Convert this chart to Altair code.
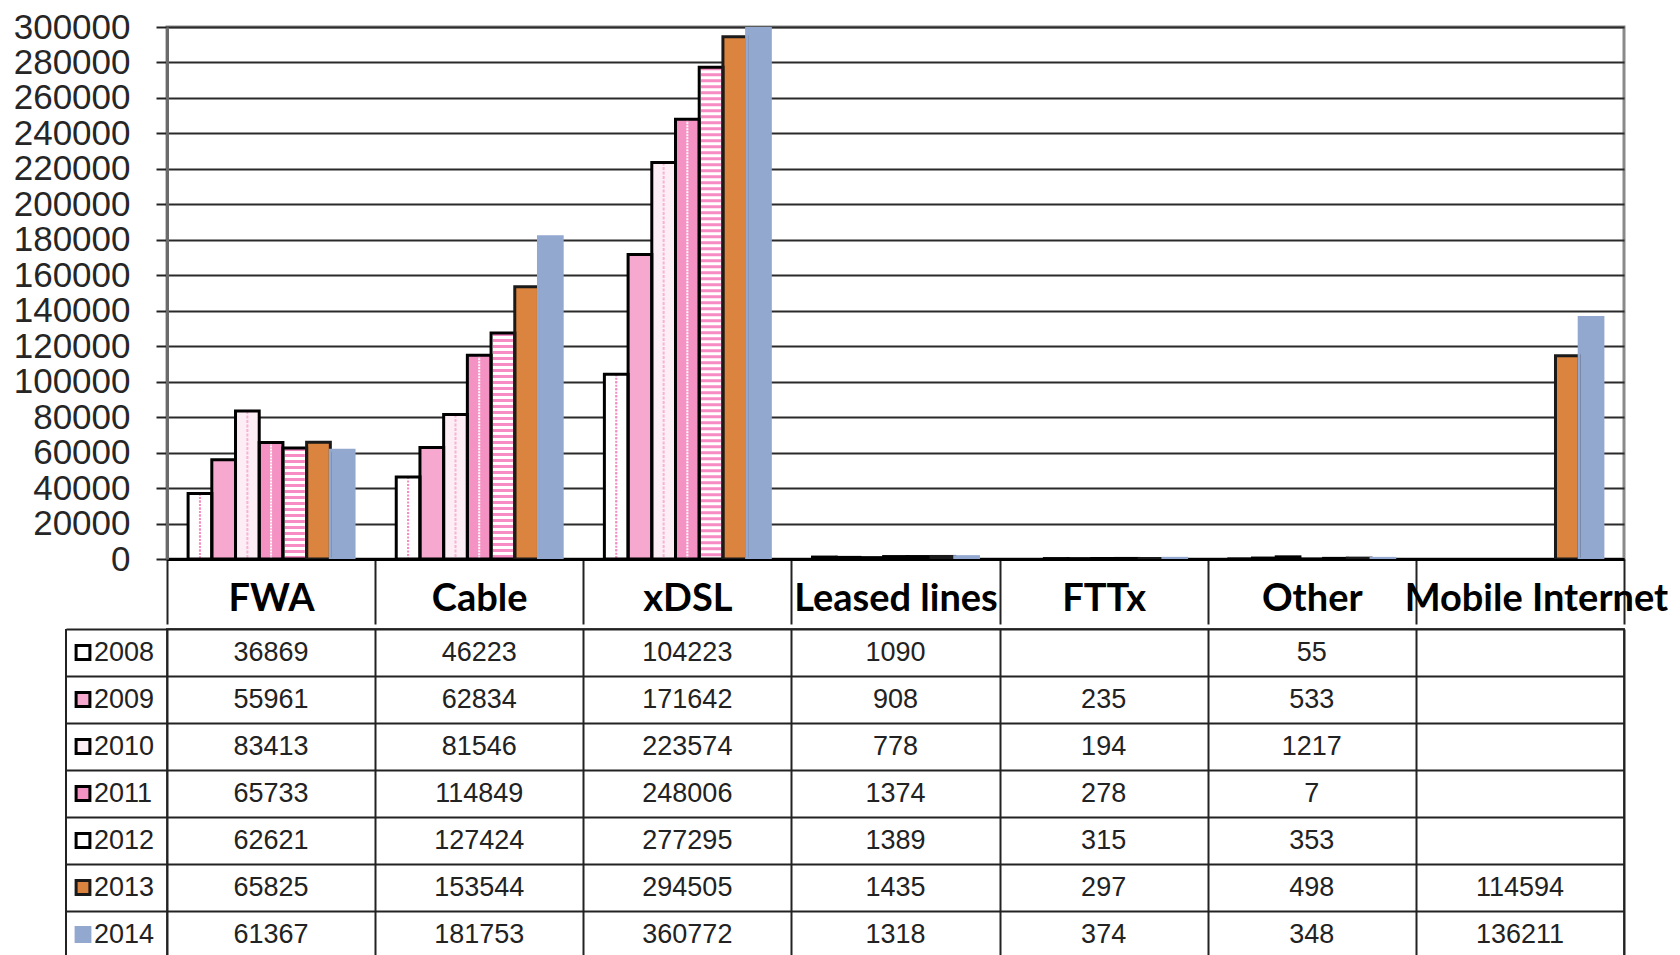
import altair as alt
import pandas as pd

categories = ["FWA", "Cable", "xDSL", "Leased lines", "FTTx", "Other", "Mobile Internet"]
years = ["2008", "2009", "2010", "2011", "2012", "2013", "2014"]
fwa = [36869, 55961, 83413, 65733, 62621, 65825, 61367]
cable = [46223, 62834, 81546, 114849, 127424, 153544, 181753]
xdsl = [104223, 171642, 223574, 248006, 277295, 294505, 360772]
leased = [1090, 908, 778, 1374, 1389, 1435, 1318]
fttx = [None, 235, 194, 278, 315, 297, 374]
other = [55, 533, 1217, 7, 353, 498, 348]
mobile = [None, None, None, None, None, 114594, 136211]
y_ticks = list(range(0, 300001, 20000))

series = [fwa, cable, xdsl, leased, fttx, other, mobile]
rows = []
for c, vals in zip(categories, series):
    for yr, v in zip(years, vals):
        rows.append({"cat": c, "year": yr, "value": v,
                     "label": "" if v is None else str(v)})
df = pd.DataFrame(rows)
df_bars = df[df["value"].notna()].copy()

PINK = "#F78BC3"
fill_colors = ["#FFFFFF", "#F6A8CF", "#FDEDF5", "#F592C4", "#FFFFFF", "#DA843F", "#93A8CF"]
stroke_colors = ["#000000"] * 5 + ["#1a1a1a", "#93A8CF"]
stroke_widths = [3, 3, 3, 3, 3, 1.2, 0]
square_fills = ["#FBE4EF", "#F6A3CC", "#FFF3F8", "#F38CC0", "#FBD3E6", "#DA843F", "#93A8CF"]
square_strokes = ["#000000"] * 5 + ["#B9692C", "#93A8CF"]
square_widths = [3, 3, 3, 3, 3, 1, 0]

W = 1457
H = 532
ROW_H = 47
HDR = 65

xscale = alt.Scale(domain=categories, paddingInner=0, paddingOuter=0)
yscale = alt.Scale(domain=[0, 300000], nice=False, zero=True)
off_scale = alt.Scale(domain=years, paddingInner=0, paddingOuter=0.89)

x_axis = alt.Axis(
    labelFont="Lato", labelFontWeight="bold", labelFontSize=38, labelColor="#000",
    labelAngle=0, labelLimit=400, labelPadding=-14, labelBaseline="alphabetic",
    labelOffset={"condition": {"test": "datum.value === 'Mobile Internet'", "value": 16}, "value": 0},
    tickBand="extent", ticks=True, tickSize=HDR, tickColor="#222", tickWidth=2,
    domain=True, domainColor="#000", domainWidth=3, grid=False,
    minExtent=HDR, maxExtent=HDR,
)
y_axis = alt.Axis(
    values=y_ticks, format="d", labelFont="Liberation Sans", labelFontSize=35,
    labelColor="#262626", labelPadding=26, labelOverlap=False,
    ticks=True, tickSize=11, tickColor="#222", tickWidth=2,
    domain=True, domainColor="#6b6b6b", domainWidth=3,
    grid=True, gridColor="#2a2a2a", gridWidth=2,
    minExtent=156, maxExtent=156,
)

X = alt.X("cat:N", scale=xscale, sort=categories, title=None, axis=x_axis)
Y = alt.Y("value:Q", scale=yscale, title=None, axis=y_axis)
XO = alt.XOffset("year:N", scale=off_scale, sort=years)

bbase = alt.Chart(df_bars)

bars = bbase.mark_bar(clip=True).encode(
    x=X, y=Y, xOffset=XO,
    fill=alt.Fill("year:N", scale=alt.Scale(domain=years, range=fill_colors), legend=None),
)


def dotted(year, color, width, dash, dash_off, x_off):
    return bbase.transform_filter(alt.datum.year == year).mark_rule(
        color=color, strokeWidth=width, strokeDash=dash, strokeDashOffset=dash_off,
        xOffset=x_off, clip=True, strokeCap="butt"
    ).encode(x=X, y=Y, y2=alt.datum(0), xOffset=XO)


# 2008 sparse pink dots
dots08a = dotted("2008", PINK, 2, [2, 5], 0, -5)
dots08b = dotted("2008", PINK, 2, [2, 5], 3.5, 1)
dots08c = dotted("2008", PINK, 2, [2, 5], 0, 6)
# 2010 faint pink dashes
dots10a = dotted("2010", "#F7B3D5", 2, [3, 6], 0, -4)
dots10b = dotted("2010", "#F7B3D5", 2, [3, 6], 4.5, 4)
# 2011 white dots on pink
dots11a = dotted("2011", "#FFFFFF", 2, [2, 4], 0, -4)
dots11b = dotted("2011", "#FFFFFF", 2, [2, 4], 3, 4)
# 2012 horizontal stripes
stripes12 = bbase.transform_filter(alt.datum.year == "2012").mark_rule(
    color=PINK, strokeWidth=20, strokeDash=[3, 3], clip=True, strokeCap="butt"
).encode(x=X, y=Y, y2=alt.datum(0), xOffset=XO)

outline = bbase.mark_bar(fillOpacity=0, clip=True).encode(
    x=X, y=Y, xOffset=XO,
    stroke=alt.Stroke("year:N", scale=alt.Scale(domain=years, range=stroke_colors), legend=None),
    strokeWidth=alt.StrokeWidth("year:O", scale=alt.Scale(domain=years, range=stroke_widths), legend=None),
)

top = alt.layer(bars, dots08a, dots08b, dots08c, dots10a, dots10b, dots11a, dots11b,
                stripes12, outline).properties(
    width=W, height=H,
    view=alt.ViewBackground(stroke="#8a8a8a", strokeWidth=3),
)

# ---- data table ----
tx = alt.X("cat:N", scale=xscale, sort=categories, title=None,
           axis=alt.Axis(labels=False, ticks=False, domain=False, grid=True,
                         tickBand="extent", gridColor="#222", gridWidth=2))
ty = alt.Y("year:N", scale=alt.Scale(domain=years, paddingInner=0, paddingOuter=0),
           sort=years, title=None,
           axis=alt.Axis(labels=False, ticks=True, tickBand="extent", tickSize=101,
                         tickColor="#222", tickWidth=2, domain=False, grid=True,
                         gridColor="#222", gridWidth=2, minExtent=156, maxExtent=156))

tbase = alt.Chart(df)
cells = tbase.mark_text(font="Liberation Sans", fontSize=27, color="#222",
                        baseline="middle", align="center").encode(
    x=tx, y=ty, text="label:N")

sq = alt.Chart(pd.DataFrame({"year": years})).mark_point(
    shape="square", filled=True, size=190, opacity=1).encode(
    x=alt.value(-84), y=ty,
    fill=alt.Fill("year:N", scale=alt.Scale(domain=years, range=square_fills), legend=None),
    stroke=alt.Stroke("year:N", scale=alt.Scale(domain=years, range=square_strokes), legend=None),
    strokeWidth=alt.StrokeWidth("year:O", scale=alt.Scale(domain=years, range=square_widths), legend=None),
)
yr_text = alt.Chart(pd.DataFrame({"year": years})).mark_text(
    font="Liberation Sans", fontSize=27, color="#222", align="left", baseline="middle").encode(
    x=alt.value(-73), y=ty, text="year:N")

left_border = alt.Chart(pd.DataFrame({"a": [0]})).mark_rule(color="#222", strokeWidth=2).encode(
    x=alt.value(-101), y=alt.value(0), y2=alt.value(ROW_H * len(years)))

table = alt.layer(cells, sq, yr_text, left_border).properties(
    width=W, height=ROW_H * len(years),
    view=alt.ViewBackground(stroke="#444", strokeWidth=2),
)

chart = alt.vconcat(top, table, spacing=0).properties(
    padding={"left": 1, "top": 0, "right": 0, "bottom": 0},
    background="white",
)

chart.save("out.html", embed_options={"renderer": "svg", "actions": False})
